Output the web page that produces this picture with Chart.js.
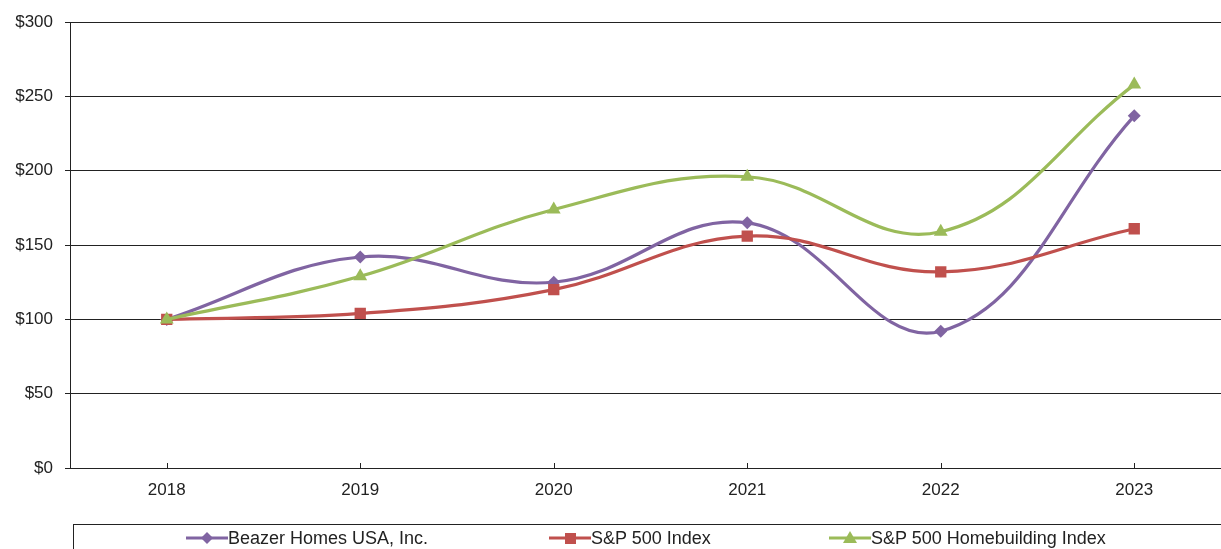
<!DOCTYPE html>
<html>
<head>
<meta charset="utf-8">
<script src="https://cdn.jsdelivr.net/npm/chart.js@4/dist/chart.umd.min.js"></script>
<style>
  html, body { margin: 0; padding: 0; background: #fff; overflow: hidden; width: 1221px; height: 549px; }
  #wrap { position: absolute; left: 0; top: 0; width: 1239px; height: 549px; }
  #legend { position: absolute; left: 73px; top: 524px; width: 1200px; height: 40px; border: 1px solid #222; box-sizing: border-box; font-family: "Liberation Sans", Arial, sans-serif; font-size: 18px; color: #222; }
  .item { position: absolute; top: 2px; height: 22px; display: flex; align-items: center; white-space: nowrap; }
  .item svg { display: block; }
</style>
</head>
<body>
<div id="wrap"><canvas id="c" width="1239" height="549"></canvas></div>
<div id="legend"></div>
<script>
const years = ['2018', '2019', '2020', '2021', '2022', '2023'];
const beazer = [100, 142, 125, 165, 92, 237];
const sp500 = [100, 104, 120, 156, 132, 161];
const homebuilding = [100, 129, 174, 196, 159, 258];
const seriesNames = ['Beazer Homes USA, Inc.', 'S&P 500 Index', 'S&P 500 Homebuilding Index'];
const yTicks = [0, 50, 100, 150, 200, 250, 300];

const colors = ['#8064A2', '#C0504D', '#9BBB59'];
const styles = ['rectRot', 'rect', 'triangle'];
const radii = [6.5, 8, 8];
const data = [beazer, sp500, homebuilding];

const datasets = data.map((d, i) => ({
  label: seriesNames[i],
  data: d,
  borderColor: colors[i],
  backgroundColor: colors[i],
  borderWidth: 3.2,
  pointStyle: styles[i],
  pointRadius: radii[i],
  pointBorderWidth: 0,
  pointBackgroundColor: colors[i],
  tension: 0.4,
  order: 2 - i
}));

const xTickPlugin = {
  id: 'xTicks',
  afterDraw(chart) {
    const ctx = chart.ctx, xs = chart.scales.x, b = chart.chartArea.bottom;
    ctx.save();
    ctx.strokeStyle = '#222';
    ctx.lineWidth = 1;
    years.forEach((_, i) => {
      const x = Math.round(xs.getPixelForValue(i)) + 0.5;
      ctx.beginPath(); ctx.moveTo(x, b - 5); ctx.lineTo(x, b); ctx.stroke();
    });
    ctx.restore();
  }
};

new Chart(document.getElementById('c'), {
  type: 'line',
  data: { labels: years, datasets },
  plugins: [xTickPlugin],
  options: {
    responsive: false,
    animation: false,
    devicePixelRatio: 1,
    layout: { padding: { top: 22, right: 0, bottom: 0, left: 0 } },
    plugins: { legend: { display: false }, tooltip: { enabled: false } },
    scales: {
      x: {
        offset: true,
        grid: { display: false, drawTicks: false },
        border: { display: true, color: '#222', width: 1 },
        ticks: { color: '#222', padding: 12, font: { family: '"Liberation Sans", Arial, sans-serif', size: 17 } },
        afterFit(s) { s.height = 81; }
      },
      y: {
        min: 0, max: 300,
        afterBuildTicks(s) { s.ticks = yTicks.map(v => ({ value: v })); },
        grid: { color: '#222', lineWidth: 1, tickLength: 5, drawTicks: true },
        border: { display: true, color: '#222', width: 1 },
        ticks: { color: '#222', padding: 12, font: { family: '"Liberation Sans", Arial, sans-serif', size: 17 }, callback: v => '$' + v },
        afterFit(s) { s.width = 70; }
      }
    }
  }
});

// HTML legend built from the series arrays
const legend = document.getElementById('legend');
const itemLeft = [112, 475, 755];
seriesNames.forEach((name, i) => {
  const el = document.createElement('div');
  el.className = 'item';
  el.style.left = itemLeft[i] + 'px';
  let marker;
  const c = colors[i];
  if (styles[i] === 'rectRot') marker = `<polygon points="21,4 27,10 21,16 15,10" fill="${c}"/>`;
  else if (styles[i] === 'rect') marker = `<rect x="16" y="5" width="11" height="11" fill="${c}"/>`;
  else marker = `<polygon points="21,3 28,15 14,15" fill="${c}"/>`;
  el.innerHTML = `<svg width="42" height="20"><line x1="0" y1="10" x2="42" y2="10" stroke="${c}" stroke-width="3"/>${marker}</svg><span>${name}</span>`;
  legend.appendChild(el);
});
</script>
</body>
</html>
